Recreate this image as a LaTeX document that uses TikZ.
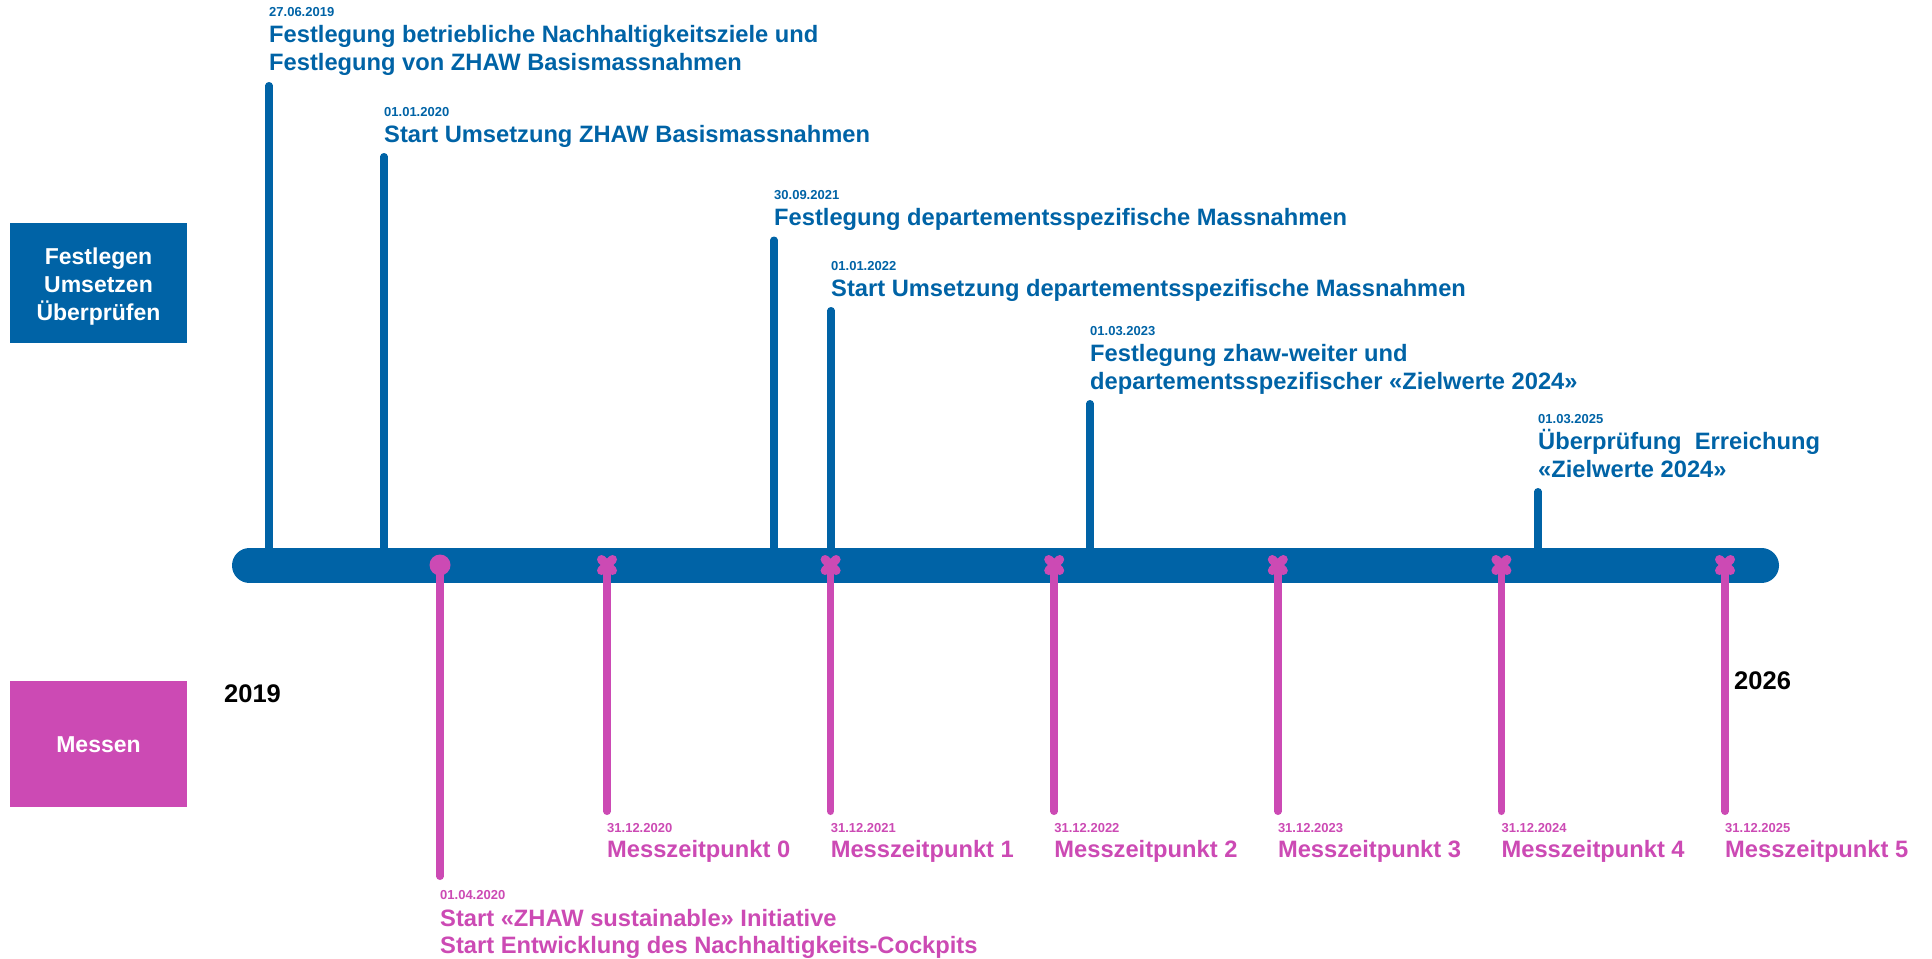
\documentclass[tikz,border=0pt]{standalone}
\usepackage{fontspec}
\setmainfont{Liberation Sans}
\usetikzlibrary{calc}
\definecolor{zblue}{RGB}{0,99,166}
\definecolor{zpink}{RGB}{204,74,180}
\tikzset{
  bluestem/.style={draw=zblue,line width=7.5pt,line cap=round},
  pinkstem/.style={draw=zpink,line width=7.5pt,line cap=round},
  crossline/.style={draw=zpink,line width=9pt,line cap=round},
  datelbl/.style={anchor=base west,inner sep=0pt,font=\bfseries\fontsize{13}{15}\selectfont},
  btitle/.style={anchor=base west,inner sep=0pt,text=zblue,font=\bfseries\fontsize{23.7}{28}\selectfont},
  ptitle/.style={anchor=base west,inner sep=0pt,text=zpink,font=\bfseries\fontsize{23.7}{27}\selectfont},
  catbox/.style={inner sep=0pt,minimum width=177pt},
  cattext/.style={inner sep=0pt,text=white,align=center,font=\bfseries\fontsize{23}{28}\selectfont},
  yearlbl/.style={anchor=base west,inner sep=0pt,font=\bfseries\fontsize{25.5}{30}\selectfont},
}
\begin{document}
\begin{tikzpicture}[x=1pt,y=-1pt]
\useasboundingbox (0,0) rectangle (1932,958);

% category boxes
\node[catbox,fill=zblue,minimum height=119.4pt] (boxA) at (98.5,283) {};
\node[cattext] (boxAtxt) at (98.5,287) {Festlegen\\Umsetzen\\Überprüfen};
\node[catbox,fill=zpink,minimum height=126.3pt] (boxB) at (98.5,744) {};
\node[cattext] (boxBtxt) at (98.5,745) {Messen};

% years
\node[yearlbl] (y2019) at (224,702) {2019};
\node[yearlbl] (y2026) at (1734,689) {2026};

% blue stems
\coordinate (b1t) at (269,85.75);   \coordinate (b1b) at (269,565);
\coordinate (b2t) at (384,156.75);  \coordinate (b2b) at (384,565);
\coordinate (b3t) at (774,240.25);  \coordinate (b3b) at (774,565);
\coordinate (b4t) at (831,310.75);  \coordinate (b4b) at (831,565);
\coordinate (b5t) at (1090,403.75); \coordinate (b5b) at (1090,565);
\coordinate (b6t) at (1538,491.75); \coordinate (b6b) at (1538,565);
\foreach \i in {1,...,6} {\draw[bluestem] (b\i t) -- (b\i b);}

% timeline bar
\coordinate (barL) at (249.5,565.5);
\coordinate (barR) at (1761.5,565.5);
\draw[zblue,line width=35pt,line cap=round] (barL) -- (barR);

% blue labels
\node[datelbl,text=zblue] (d1) at (269,17) {27.06.2019};
\node[btitle] (t1) at (269,43) {\begin{tabular}[t]{@{}l@{}}Festlegung betriebliche Nachhaltigkeitsziele und\\Festlegung von ZHAW Basismassnahmen\end{tabular}};
\node[datelbl,text=zblue] (d2) at (384,116) {01.01.2020};
\node[btitle] (t2) at (384,142) {Start Umsetzung ZHAW Basismassnahmen};
\node[datelbl,text=zblue] (d3) at (774,199.5) {30.09.2021};
\node[btitle] (t3) at (774,225.5) {Festlegung departementsspezifische Massnahmen};
\node[datelbl,text=zblue] (d4) at (831,270) {01.01.2022};
\node[btitle] (t4) at (831,296) {Start Umsetzung departementsspezifische Massnahmen};
\node[datelbl,text=zblue] (d5) at (1090,335) {01.03.2023};
\node[btitle] (t5) at (1090,361) {\begin{tabular}[t]{@{}l@{}}Festlegung zhaw-weiter und\\departementsspezifischer «Zielwerte 2024»\end{tabular}};
\node[datelbl,text=zblue] (d6) at (1538,423) {01.03.2025};
\node[btitle] (t6) at (1538,449) {\begin{tabular}[t]{@{}l@{}}Überprüfung\ \ Erreichung\\«Zielwerte 2024»\end{tabular}};

% pink stems
\coordinate (p0t) at (440,565); \coordinate (p0b) at (440,876.25);
\draw[pinkstem] (p0t) -- (p0b);
\foreach \i/\x in {1/607,2/830.6,3/1054.2,4/1277.8,5/1501.4,6/1725} {
  \coordinate (p\i t) at (\x,565);
  \coordinate (p\i b) at (\x,811.25);
  \draw[pinkstem] (p\i t) -- (p\i b);
  \draw[crossline] ($(p\i t)+(-5.5,-5.5)$) -- ($(p\i t)+(5.5,5.5)$);
  \draw[crossline] ($(p\i t)+(-5.5,5.5)$) -- ($(p\i t)+(5.5,-5.5)$);
}
\node[circle,fill=zpink,minimum size=21pt,inner sep=0pt] (p0m) at (p0t) {};

% pink labels
\node[datelbl,text=zpink] (pd0) at (440,899) {01.04.2020};
\node[ptitle] (pt0) at (440,926) {\begin{tabular}[t]{@{}l@{}}Start «ZHAW sustainable» Initiative\\Start Entwicklung des Nachhaltigkeits-Cockpits\end{tabular}};
\foreach \i/\x/\yr/\n in {1/607/2020/0,2/830.6/2021/1,3/1054.2/2022/2,4/1277.8/2023/3,5/1501.4/2024/4,6/1725/2025/5} {
  \node[datelbl,text=zpink] (pd\i) at (\x,832) {31.12.\yr};
  \node[ptitle] (pt\i) at (\x,857) {Messzeitpunkt \n};
}
\end{tikzpicture}
\end{document}
